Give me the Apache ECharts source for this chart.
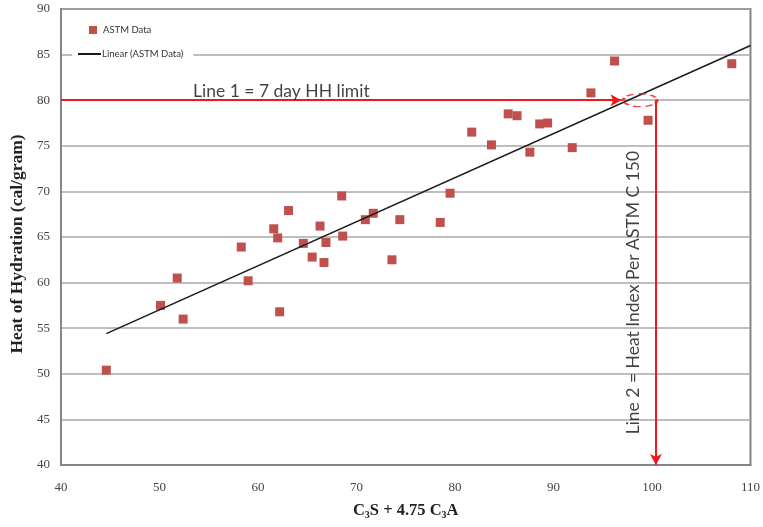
<!DOCTYPE html>
<html>
<head>
<meta charset="utf-8">
<script src="https://cdn.jsdelivr.net/npm/echarts@6/dist/echarts.min.js"></script>
<style>
  html, body { margin: 0; padding: 0; background: #fff; }
  #main { width: 763px; height: 527px; }
</style>
</head>
<body>
<div id="main"></div>
<script>
// C3S + 4.75 C3A (x) and heat of hydration in cal/gram (y)
var heatIndex = [44.6, 50.1, 51.8, 52.4, 58.3, 59.0, 61.6, 62.0, 62.2, 63.1,
  64.6, 65.5, 66.3, 66.7, 66.9, 68.5, 68.6, 70.9, 71.7, 73.6,
  74.4, 78.5, 79.5, 81.7, 83.7, 85.4, 86.3, 87.6, 88.6, 89.4,
  91.9, 93.8, 96.2, 99.6, 108.1]
var heatOfHydration = [50.4, 57.5, 60.5, 56.0, 63.9, 60.2, 65.9, 64.9, 56.8, 67.9,
  64.3, 62.8, 66.2, 62.2, 64.4, 69.5, 65.1, 66.9, 67.6, 62.5,
  66.9, 66.6, 69.8, 76.5, 75.1, 78.5, 78.3, 74.3, 77.4, 77.5,
  74.8, 80.8, 84.3, 77.8, 84.0]

// linear fit end points
var trendX = [44.6, 110]
var trendY = [54.4, 86.0]

// annotation values
var hhLimit = 80
var hhLimitEndX = 96.9
var heatIndexLimit = 100.4
var ellipseCenter = [98.8, 80]
var line1Label = 'Line 1 = 7 day HH limit'
var line1LabelAt = [53.4, 81.0]
var line2Label = 'Line 2 = Heat Index Per ASTM C 150'
var line2LabelAt = [98.1, 58.9]

var myChart = echarts.init(document.getElementById('main'))

var serif = '"Liberation Serif", "Times New Roman", serif'
var sans = 'Lato, "Open Sans", sans-serif'

myChart.setOption({
  animation: false,
  grid: {
    left: 61,
    right: 10,
    top: 9,
    bottom: 62,
    show: true,
    borderColor: '#858585',
    borderWidth: 2
  },
  legend: [{
    data: [{ name: 'ASTM Data', icon: 'rect' }],
    left: 84,
    top: 20,
    itemWidth: 8,
    itemHeight: 8,
    textStyle: { fontFamily: sans, fontSize: 9.5, color: '#333', padding: [0, 0, 0, 1] }
  }, {
    data: [{ name: 'Linear (ASTM Data)' }],
    left: 72,
    top: 46,
    padding: [3, 10, 3, 5],
    backgroundColor: '#fff',
    itemWidth: 23,
    itemHeight: 2,
    itemGap: 0,
    textStyle: { fontFamily: sans, fontSize: 9.5, color: '#333', padding: [0, 0, 0, -4] }
  }],
  xAxis: {
    type: 'value',
    min: 40,
    max: 110,
    interval: 10,
    name: '{b|C}{s|3}{b|S + 4.75 C}{s|3}{b|A}',
    nameLocation: 'middle',
    nameGap: 36,
    nameTextStyle: {
      rich: {
        b: { fontFamily: serif, fontWeight: 'bold', fontSize: 16.5, color: '#222' },
        s: { fontFamily: serif, fontWeight: 'bold', fontSize: 10, color: '#222', verticalAlign: 'bottom', padding: [9, 0, 0, 0] }
      }
    },
    axisLine: { lineStyle: { color: '#858585', width: 2 } },
    axisTick: { show: false },
    axisLabel: { fontFamily: serif, fontSize: 13, color: '#444', margin: 16 },
    splitLine: { show: false }
  },
  yAxis: {
    type: 'value',
    min: 40,
    max: 90,
    interval: 5,
    name: 'Heat of Hydration (cal/gram)',
    nameLocation: 'middle',
    nameGap: 33,
    nameTextStyle: { fontFamily: serif, fontWeight: 'bold', fontSize: 17.5, color: '#222', padding: [0, 14, 0, 0] },
    axisLine: { lineStyle: { color: '#858585', width: 2 } },
    axisTick: { show: false },
    axisLabel: { fontFamily: serif, fontSize: 13, color: '#444', margin: 11 },
    splitLine: { lineStyle: { color: '#a8a8a8', width: 1.5 } }
  },
  series: [{
    name: 'ASTM Data',
    type: 'scatter',
    symbol: 'rect',
    symbolSize: 9,
    itemStyle: { color: '#C0504D', opacity: 1 },
    data: heatIndex.map(function(x, i) {
      return [x, heatOfHydration[i]]
    }),
    z: 4
  }, {
    name: 'Linear (ASTM Data)',
    type: 'line',
    symbol: 'none',
    lineStyle: { color: '#1a1a1a', width: 1.5 },
    itemStyle: { color: '#1a1a1a' },
    data: trendX.map(function(x, i) {
      return [x, trendY[i]]
    }),
    z: 5,
    markLine: {
      silent: true,
      symbol: ['none', 'arrow'],
      symbolSize: [9, 11],
      label: { show: false },
      lineStyle: { color: '#f2161c', width: 2, type: 'solid' },
      data: [
        [{ coord: [40, hhLimit] }, { coord: [hhLimitEndX, hhLimit] }],
        [{ coord: [heatIndexLimit, hhLimit] }, { coord: [heatIndexLimit, 40] }]
      ]
    }
  }, {
    name: 'limit',
    type: 'scatter',
    silent: true,
    symbol: 'circle',
    symbolSize: [34, 13],
    itemStyle: { color: 'rgba(0,0,0,0)', borderColor: '#f2161c', borderWidth: 2, borderType: [5, 3] },
    data: [ellipseCenter],
    z: 6
  }, {
    name: 'notes',
    type: 'scatter',
    silent: true,
    symbolSize: 0,
    data: [{
      value: line1LabelAt,
      label: { show: true, position: 'right', distance: 0, formatter: line1Label }
    }, {
      value: line2LabelAt,
      label: { show: true, position: 'inside', rotate: 90, formatter: line2Label }
    }],
    label: { fontFamily: sans, fontSize: 17.5, color: '#111' },
    z: 7
  }]
})
</script>
</body>
</html>
